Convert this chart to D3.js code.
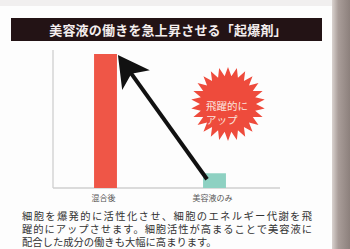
<!DOCTYPE html>
<html>
<head>
<meta charset="utf-8">
<script src="https://cdn.jsdelivr.net/npm/d3@7"></script>
<style>
  html, body { margin: 0; padding: 0; background: #fff; }
  svg { display: block; }
</style>
</head>
<body>
<div id="chart"></div>
<script>
var width = 350;
var height = 249;

var categories = ["混合後", "美容液のみ"];
var values = [100, 11];
var title = "美容液の働きを急上昇させる「起爆剤」";
var burstText = ["飛躍的に", "アップ"];
var caption = [
  "細胞を爆発的に活性化させ、細胞のエネルギー代謝を飛",
  "躍的にアップさせます。細胞活性が高まることで美容液に",
  "配合した成分の働きも大幅に高まります。"
];

var svg = d3.select("#chart").append("svg")
    .attr("width", width)
    .attr("height", height);

var defs = svg.append("defs");
var grad = defs.append("linearGradient").attr("id", "edge");
grad.append("stop").attr("offset", "0%").attr("stop-color", "#d9d2cf");
grad.append("stop").attr("offset", "35%").attr("stop-color", "#a99d99");
grad.append("stop").attr("offset", "100%").attr("stop-color", "#8c807c");

// page + right edge
svg.append("rect").attr("width", width).attr("height", height).attr("fill", "#fdfdfd");
svg.append("rect").attr("width", 333).attr("height", 6).attr("fill", "#f1efef");
svg.append("rect").attr("x", 332).attr("width", 18).attr("height", height).attr("fill", "url(#edge)");

// title bar
svg.append("rect")
    .attr("x", 11).attr("y", 18)
    .attr("width", 311).attr("height", 23)
    .attr("fill", "#231315");
svg.append("text")
    .text(title)
    .attr("x", 168).attr("y", 34.5)
    .attr("text-anchor", "middle")
    .attr("fill", "#f4eeee")
    .attr("font-family", "Noto Sans CJK JP")
    .attr("font-weight", "bold")
    .attr("font-size", 13)
    .attr("letter-spacing", 0.2);

var x = d3.scaleBand()
    .domain(categories)
    .range([51, 269])
    .paddingInner(0.79)
    .paddingOuter(0.395);

var y = d3.scaleLinear()
    .domain([0, 100])
    .range([188, 54]);

var g = svg.append("g");

// axes
g.append("line")
    .attr("x1", 53).attr("x2", 53)
    .attr("y1", 50).attr("y2", y(0))
    .attr("stroke", "#d4d4d4").attr("stroke-width", 1.5);
g.append("line")
    .attr("x1", 53).attr("x2", 280)
    .attr("y1", y(0)).attr("y2", y(0))
    .attr("stroke", "#cfcfcf").attr("stroke-width", 1.5);

var colors = ["#ef5647", "#8ed1c2"];

g.selectAll(".bar")
    .data(values)
  .enter().append("rect")
    .attr("class", "bar")
    .attr("x", function(d, i) { return x(categories[i]); })
    .attr("y", function(d) { return y(d); })
    .attr("width", x.bandwidth())
    .attr("height", function(d) { return y(0) - y(d); })
    .attr("fill", function(d, i) { return colors[i]; });

g.selectAll(".lbl")
    .data(categories)
  .enter().append("text")
    .attr("class", "lbl")
    .text(function(d) { return d; })
    .attr("x", function(d) { return x(d) + x.bandwidth() / 2 - 2; })
    .attr("y", 201)
    .attr("text-anchor", "middle")
    .attr("fill", "#555")
    .attr("font-family", "Noto Sans CJK JP")
    .attr("font-size", 8);

// starburst
var spikes = 26;
var pts = d3.range(spikes * 2).map(function(i) {
  return [i * Math.PI / spikes, i % 2 ? 28 : 37];
});
svg.append("path")
    .attr("transform", "translate(228,104)")
    .attr("d", d3.lineRadial().curve(d3.curveLinearClosed)(pts))
    .attr("fill", "#ee4b3c");

svg.selectAll(".burst")
    .data(burstText)
  .enter().append("text")
    .text(function(d) { return d; })
    .attr("x", 206)
    .attr("y", function(d, i) { return 110 + i * 14; })
    .attr("fill", "#fbe3de")
    .attr("font-family", "Noto Sans CJK JP")
    .attr("font-size", 10.5);

// arrow from small bar to tall bar
var tip = [x(categories[0]) + x.bandwidth() + 1, y(values[0]) + 1];
var tail = [x(categories[1]) + 4, y(values[1]) + 6];
var dx = tail[0] - tip[0], dy = tail[1] - tip[1];
var len = Math.sqrt(dx * dx + dy * dy);
var ux = dx / len, uy = dy / len, nx = uy, ny = -ux;

svg.append("line")
    .attr("x1", tip[0] + ux * 22).attr("y1", tip[1] + uy * 22)
    .attr("x2", tail[0]).attr("y2", tail[1])
    .attr("stroke", "#111").attr("stroke-width", 4);

var head = [
  tip,
  [tip[0] + ux * 31 + nx * 17, tip[1] + uy * 31 + ny * 17],
  [tip[0] + ux * 23, tip[1] + uy * 23],
  [tip[0] + ux * 31 - nx * 17, tip[1] + uy * 31 - ny * 17]
];
svg.append("path")
    .attr("d", "M" + head.join("L") + "Z")
    .attr("fill", "#111");

// caption
svg.selectAll(".cap")
    .data(caption)
  .enter().append("text")
    .text(function(d) { return d; })
    .attr("x", 22)
    .attr("y", function(d, i) { return 220 + i * 12.8; })
    .attr("fill", "#333")
    .attr("font-family", "'Liberation Sans', 'Noto Sans CJK JP'")
    .attr("font-size", 10.3)
    .each(function(d, i) {
      if (i < 2) d3.select(this).attr("textLength", 290).attr("lengthAdjust", "spacing");
    });
</script>
</body>
</html>
